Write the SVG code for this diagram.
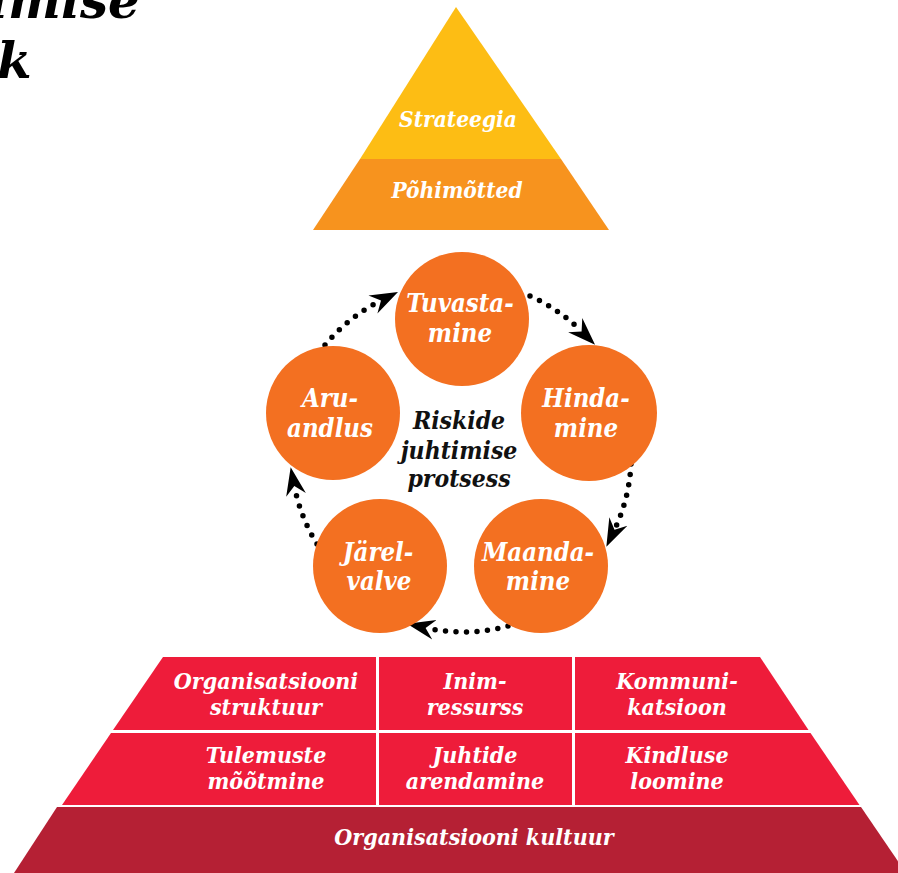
<svg xmlns="http://www.w3.org/2000/svg" width="898" height="873" viewBox="0 0 898 873">
<style>
.t{font-family:"DejaVu Serif Condensed","DejaVu Serif",serif;font-weight:bold;font-style:italic;text-anchor:middle}
.w{fill:#ffffff}
.b{fill:#111111}
.c{font-size:25.5px}
.p{font-size:22.5px}
.r{font-size:23px}
.circ{fill:#F37021}
.dots{fill:none;stroke:#000;stroke-width:5.5;stroke-linecap:round;stroke-dasharray:0 10.5;marker-end:url(#ah)}
</style>
<defs>
<marker id="ah" markerUnits="userSpaceOnUse" markerWidth="32" markerHeight="26" viewBox="0 0 32 26" refX="9" refY="13" orient="auto">
<path d="M28,13 L0,3 L9,13 L0,23 Z" fill="#000" stroke="none"/>
</marker>
</defs>
<rect width="898" height="873" fill="#ffffff"/>

<g id="title">
<text x="-11" y="18" font-family="DejaVu Serif,serif" font-weight="bold" font-style="italic" font-size="50" fill="#000">imise</text>
<text x="-3" y="78" font-family="DejaVu Serif,serif" font-weight="bold" font-style="italic" font-size="50" fill="#000">k</text>
</g>

<g id="strateegia">
<polygon points="456,7 561,159 360,159" fill="#FDBD14"/>
<text class="t w p" x="458" y="127">Strateegia</text>
</g>
<g id="pohimotted">
<polygon points="360,159 561,159 609,230 313,230" fill="#F7931E"/>
<text class="t w p" x="457" y="198">Põhimõtted</text>
</g>

<g id="connectors">
<path class="dots" d="M325,345 A173,173 0 0 1 381,300.5"/>
<path class="dots" d="M530,296 A173,173 0 0 1 581.6,331.4"/>
<path class="dots" d="M631,464 A173,173 0 0 1 614.5,529.7"/>
<path class="dots" d="M508,626 A173,173 0 0 1 425.6,627.9"/>
<path class="dots" d="M317,544 A173,173 0 0 1 294.3,486"/>
</g>

<g id="tuvastamine">
<circle class="circ" cx="462" cy="319" r="67"/>
<text class="t w c" x="460" y="312">Tuvasta-</text>
<text class="t w c" x="460" y="342">mine</text>
</g>
<g id="hindamine">
<circle class="circ" cx="589" cy="413" r="68"/>
<text class="t w c" x="586" y="407">Hinda-</text>
<text class="t w c" x="586" y="437">mine</text>
</g>
<g id="aruandlus">
<circle class="circ" cx="333" cy="413" r="67"/>
<text class="t w c" x="330" y="407">Aru-</text>
<text class="t w c" x="330" y="437">andlus</text>
</g>
<g id="jarelvalve">
<circle class="circ" cx="380" cy="566" r="67"/>
<text class="t w c" x="378" y="561">Järel-</text>
<text class="t w c" x="379" y="590">valve</text>
</g>
<g id="maandamine">
<circle class="circ" cx="541" cy="566" r="67"/>
<text class="t w c" x="538" y="561">Maanda-</text>
<text class="t w c" x="538" y="590">mine</text>
</g>

<g id="center-label">
<text class="t b" font-size="24.5" x="459" y="429">Riskide</text>
<text class="t b" font-size="24.5" x="459" y="459">juhtimise</text>
<text class="t b" font-size="24.5" x="459" y="487">protsess</text>
</g>

<g id="base">
<polygon points="163,657 760,657 808.5,730 113,730" fill="#EE1C3A"/>
<polygon points="111,733 810.5,733 859.5,805 62,805" fill="#EE1C3A"/>
<polygon points="57,807 861,807 906,873 14,873" fill="#B52034"/>
<rect x="376" y="657" width="3" height="148" fill="#ffffff"/>
<rect x="572" y="657" width="3" height="148" fill="#ffffff"/>
</g>

<g id="organisatsiooni-struktuur">
<text class="t w r" x="266" y="689">Organisatsiooni</text>
<text class="t w r" x="266" y="715">struktuur</text>
</g>
<g id="inimressurss">
<text class="t w r" x="475" y="689">Inim-</text>
<text class="t w r" x="475" y="715">ressurss</text>
</g>
<g id="kommunikatsioon">
<text class="t w r" x="677" y="689">Kommuni-</text>
<text class="t w r" x="677" y="715">katsioon</text>
</g>
<g id="tulemuste-mootmine">
<text class="t w r" x="266" y="763">Tulemuste</text>
<text class="t w r" x="266" y="789">mõõtmine</text>
</g>
<g id="juhtide-arendamine">
<text class="t w r" x="475" y="763">Juhtide</text>
<text class="t w r" x="475" y="789">arendamine</text>
</g>
<g id="kindluse-loomine">
<text class="t w r" x="677" y="763">Kindluse</text>
<text class="t w r" x="677" y="789">loomine</text>
</g>
<g id="organisatsiooni-kultuur">
<text class="t w r" x="474" y="845">Organisatsiooni kultuur</text>
</g>
</svg>
